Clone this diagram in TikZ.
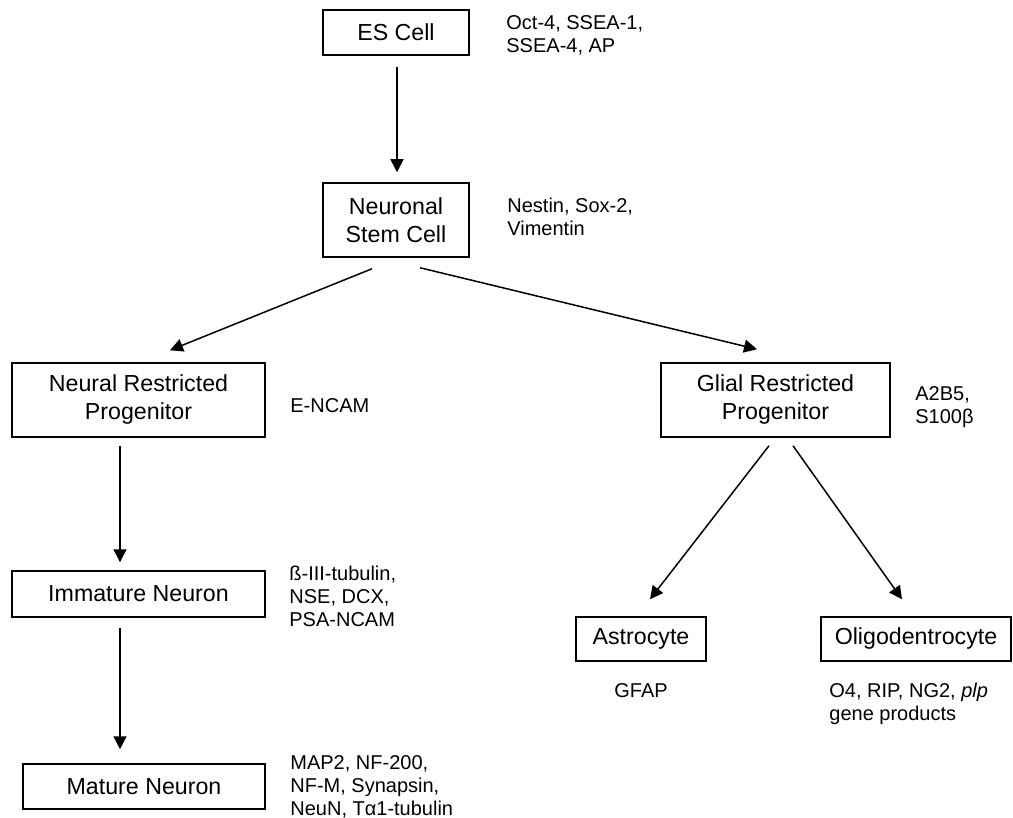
\documentclass[tikz,border=0pt]{standalone}
\usepackage{fontspec}
\setmainfont{Liberation Sans}
\usetikzlibrary{arrows.meta}
\tikzset{
  cellbox/.style={draw,line width=0.75pt,inner sep=0pt,align=center,font=\fontsize{11.6}{14}\selectfont},
  markerlist/.style={anchor=north west,inner sep=0pt,align=left,font=\fontsize{10}{11.5}\selectfont},
  flow/.style={->,line width=0.75pt}
}

\begin{document}
\begin{tikzpicture}[x=0.5pt,y=-0.5pt,>={Triangle[length=6.5pt,width=6.5pt]}]
\useasboundingbox (0,0) rectangle (1013,818);
% cells
\node[cellbox,minimum width=73pt,minimum height=22.5pt] (es) at (396,32.5) {ES Cell};
\node[cellbox,minimum width=73pt,minimum height=37pt,below of=es,node distance=93.75pt] (nsc) {Neuronal\\Stem Cell};
\node[cellbox,minimum width=126.5pt,minimum height=37pt,below of=nsc,node distance=90pt,xshift=-128.75pt] (nrp) {Neural Restricted\\Progenitor};
\node[cellbox,minimum width=114.5pt,minimum height=37pt,below of=nsc,node distance=90pt,xshift=189.75pt] (grp) {Glial Restricted\\Progenitor};
\node[cellbox,minimum width=126.5pt,minimum height=23pt,below of=nrp,node distance=97pt] (imm) {Immature Neuron};
\node[cellbox,minimum width=121pt,minimum height=22.5pt,below of=imm,node distance=96.25pt,xshift=2.75pt] (mat) {Mature Neuron};
\node[cellbox,minimum width=65pt,minimum height=22pt,below of=grp,node distance=119.5pt,xshift=-67.25pt] (ast) {Astrocyte};
\node[cellbox,minimum width=95pt,minimum height=22pt,below of=grp,node distance=119.5pt,xshift=70.25pt] (oli) {Oligodentrocyte};
% markers
\node[markerlist] (esm) at (506,15) {Oct-4, SSEA-1,\\SSEA-4, AP};
\node[markerlist] (nscm) at (507,198) {Nestin, Sox-2,\\Vimentin};
\node[markerlist] (nrpm) at (290,398) {E-NCAM};
\node[markerlist] (grpm) at (915,386) {A2B5,\\S100β};
\node[markerlist] (immm) at (289,566) {ß-III-tubulin,\\NSE, DCX,\\PSA-NCAM};
\node[markerlist] (matm) at (290,755) {MAP2, NF-200,\\NF-M, Synapsin,\\NeuN, Tα1-tubulin};
\node[markerlist] (astm) at (614,683) {GFAP};
\node[markerlist] (olim) at (829,683) {O4, RIP, NG2, \textit{plp}\\gene products};
% lineage
\path[flow] ([xshift=0.5pt,yshift=-5.5pt]es.south) edge ([xshift=0.5pt,yshift=5pt]nsc.north)
    ([xshift=-12pt,yshift=-5.5pt]nsc.south) edge ([xshift=15.75pt,yshift=6pt]nrp.north)
    ([xshift=12pt,yshift=-5pt]nsc.south) edge ([xshift=-9.25pt,yshift=6.5pt]grp.north)
    ([xshift=-9.25pt,yshift=-4pt]nrp.south) edge ([xshift=-9.25pt,yshift=4pt]imm.north)
    ([xshift=-9.25pt,yshift=-5pt]imm.south) edge ([xshift=-12pt,yshift=7pt]mat.north)
    ([xshift=-3.25pt,yshift=-4pt]grp.south) edge ([xshift=4.5pt,yshift=8.5pt]ast.north)
    ([xshift=8.75pt,yshift=-4pt]grp.south) edge ([xshift=-7pt,yshift=8.5pt]oli.north);
\end{tikzpicture}
\end{document}
